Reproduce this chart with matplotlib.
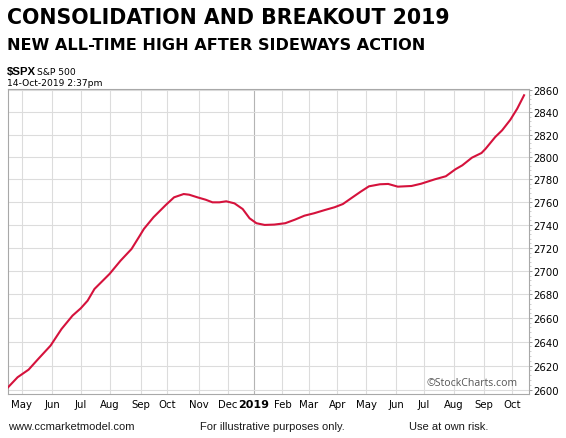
import numpy as np
import matplotlib.pyplot as plt
from matplotlib.ticker import FixedLocator, FixedFormatter, NullFormatter

# S&P 500 line as shown on the chart
dates = [
    '2018-04-17', '2018-04-26', '2018-05-08', '2018-05-17', '2018-05-31',
    '2018-06-12', '2018-06-22', '2018-07-02', '2018-07-10', '2018-07-17',
    '2018-08-01', '2018-08-13', '2018-08-23', '2018-08-31', '2018-09-06',
    '2018-09-17', '2018-09-28', '2018-10-08', '2018-10-17', '2018-10-23',
    '2018-10-31', '2018-11-08', '2018-11-15', '2018-11-23', '2018-11-30',
    '2018-12-11', '2018-12-19', '2018-12-27', '2019-01-04', '2019-01-14',
    '2019-01-24', '2019-02-05', '2019-02-14', '2019-02-26', '2019-03-07',
    '2019-03-19', '2019-03-28', '2019-04-05', '2019-04-16', '2019-04-25',
    '2019-05-03', '2019-05-15', '2019-05-23', '2019-06-04', '2019-06-18',
    '2019-06-27', '2019-07-12', '2019-07-24', '2019-08-02', '2019-08-09',
    '2019-08-20', '2019-08-29', '2019-09-04', '2019-09-13', '2019-09-20',
    '2019-09-30', '2019-10-07', '2019-10-14',
]
values = [
    2601.9, 2610.3, 2616.6, 2625.5, 2636.7,
    2650.7, 2662.0, 2668.2, 2674.7, 2684.7,
    2697.6, 2709.0, 2719.1, 2730.6, 2736.5,
    2746.7, 2757.5, 2764.2, 2767.1, 2766.5,
    2764.2, 2762.1, 2759.8, 2759.8, 2760.7,
    2758.9, 2753.9, 2745.8, 2741.5, 2740.0,
    2740.3, 2741.5, 2744.6, 2748.1, 2750.2,
    2753.1, 2755.5, 2758.3, 2764.2, 2769.2,
    2773.9, 2775.7, 2776.0, 2773.6, 2774.2,
    2776.2, 2780.1, 2782.8, 2789.0, 2792.5,
    2799.3, 2803.5, 2807.3, 2817.8, 2823.8,
    2833.3, 2843.3, 2855.5,
]

month_starts = ['2018-05-01', '2018-06-01', '2018-07-01', '2018-08-01',
                '2018-09-01', '2018-10-01', '2018-11-01', '2018-12-01',
                '2019-01-01', '2019-02-01', '2019-03-01', '2019-04-01',
                '2019-05-01', '2019-06-01', '2019-07-01', '2019-08-01',
                '2019-09-01', '2019-10-01']
month_labels = ['May', 'Jun', 'Jul', 'Aug', 'Sep', 'Oct', 'Nov', 'Dec', '2019',
                'Feb', 'Mar', 'Apr', 'May', 'Jun', 'Jul', 'Aug', 'Sep', 'Oct']
y_ticks = list(range(2600, 2861, 20))

# market holidays, so the x axis runs in trading days like the original
holidays = ['2018-05-28', '2018-07-04', '2018-09-03', '2018-11-22',
            '2018-12-05', '2018-12-25', '2019-01-01', '2019-01-21',
            '2019-02-18', '2019-04-19', '2019-05-27', '2019-07-04',
            '2019-09-02']
ORIGIN = '2018-05-01'


def tday(d):
    """Trading-day index relative to ORIGIN."""
    return int(np.busday_count(ORIGIN, d, holidays=holidays))


x = [tday(d) for d in dates]
first_days = [np.busday_offset(m, 0, roll='forward', holidays=holidays)
              for m in month_starts]
mx = [tday(d) for d in first_days]

W, H = 566, 439
fig = plt.figure(figsize=(W / 100, H / 100), dpi=100)
ax = fig.add_axes([8 / W, 44 / H, 521 / W, 305 / H])

ax.plot(x, values, color='#d5123c', lw=1.5, solid_joinstyle='round', zorder=3)

ax.set_yscale('log')
ax.set_ylim(2596.4, 2861.2)
ax.set_xlim(-10, 369.6)

ax.yaxis.set_major_locator(FixedLocator(y_ticks))
ax.yaxis.set_major_formatter(FixedFormatter([str(v) for v in y_ticks]))
ax.yaxis.set_minor_locator(FixedLocator(list(range(2600, 2861, 4))))
ax.yaxis.set_minor_formatter(NullFormatter())
ax.yaxis.tick_right()
ax.tick_params(axis='y', which='major', length=2.5, width=0.6, color='#888888',
               pad=0.5, labelsize=7.3, labelcolor='black')
ax.tick_params(axis='y', which='minor', length=1.2, width=0.5, color='#bbbbbb')

ax.set_xticks(mx)
ax.set_xticklabels(month_labels)
ax.tick_params(axis='x', length=0, pad=3.5, labelsize=7.3)
for lbl in ax.get_xticklabels():
    if lbl.get_text() == '2019':
        lbl.set_fontweight('bold')
        lbl.set_fontsize(8)

for t in mx:
    ax.axvline(t, color='#b4b4b4' if t == tday('2019-01-02') else '#dcdcdc',
               lw=0.8, zorder=1)
for v in y_ticks:
    ax.axhline(v, color='#dcdcdc', lw=0.8, zorder=1)

for s in ax.spines.values():
    s.set_color('#a8a8a8')
    s.set_linewidth(0.8)

ax.text(0.979, 0.028, '\u00a9StockCharts.com', transform=ax.transAxes,
        ha='right', va='baseline', fontsize=7.6, color='#555555',
        family='Open Sans')

# header
fig.text(7 / W, 1 - 23.5 / H, 'CONSOLIDATION AND BREAKOUT 2019',
         fontsize=14.8, fontweight='bold', va='baseline', family='DejaVu Sans')
fig.text(7 / W, 1 - 50 / H, 'NEW ALL-TIME HIGH AFTER SIDEWAYS ACTION',
         fontsize=11.6, fontweight='bold', va='baseline', family='DejaVu Sans')
fig.text(7 / W, 1 - 75 / H, r'\$SPX', fontsize=8.2, fontweight='bold',
         va='baseline', family='Liberation Sans')
fig.text(37 / W, 1 - 75 / H, 'S&P 500', fontsize=6.6, va='baseline',
         family='DejaVu Sans')
fig.text(7 / W, 1 - 85.5 / H, '14-Oct-2019 2:37pm', fontsize=6.6,
         va='baseline', family='DejaVu Sans')

# footer
fig.text(8 / W, 1 - 430 / H, 'www.ccmarketmodel.com', fontsize=8,
         va='baseline', family='Liberation Sans', color='#1a1a1a')
fig.text(200 / W, 1 - 430 / H, 'For illustrative purposes only.', fontsize=8,
         va='baseline', family='Liberation Sans', color='#1a1a1a')
fig.text(488 / W, 1 - 430 / H, 'Use at own risk.', fontsize=8, ha='right',
         va='baseline', family='Liberation Sans', color='#1a1a1a')

fig.savefig('out.png', dpi=100)
plt.close(fig)
